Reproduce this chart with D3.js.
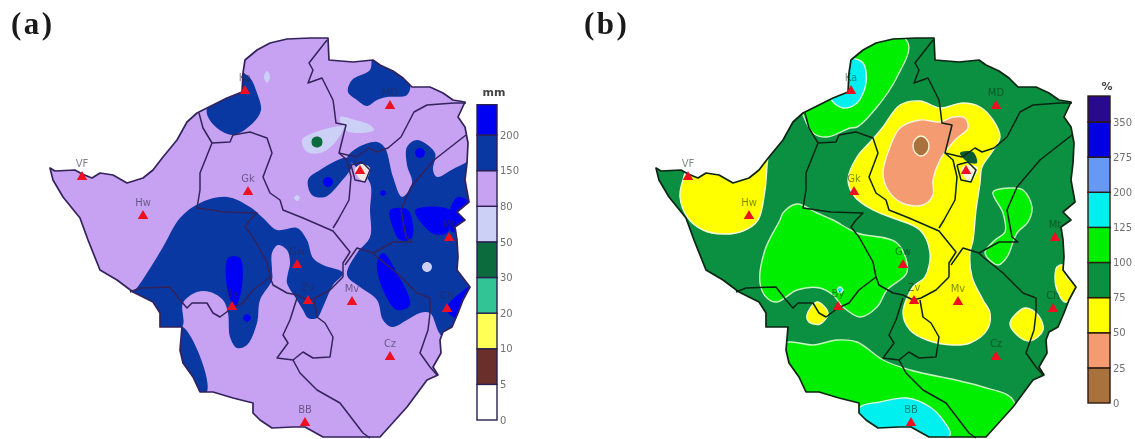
<!DOCTYPE html>
<html>
<head>
<meta charset="utf-8">
<script src="https://cdn.jsdelivr.net/npm/d3@7"></script>
<style>
html, body { margin: 0; background: #fff; }
svg { display: block; filter: blur(0.6px); }
</style>
</head>
<body>
<svg id="canvas" width="1135" height="439"></svg>
<script>
// all shapes are [east km, north km] on a rough grid over the country
const outline = [[0,544],[10,538],[50,540],[64,532],[84,524],[100,534],[126,530],[154,514],[186,524],[206,540],[226,566],[254,600],[274,636],[294,654],[314,664],[354,684],[384,696],[386,734],[390,760],[414,780],[440,794],[474,802],[520,804],[556,804],[558,760],[606,756],[646,760],[660,750],[686,738],[706,724],[724,706],[760,706],[786,694],[806,680],[830,676],[816,646],[830,626],[836,594],[834,554],[830,520],[838,476],[814,456],[830,440],[810,426],[814,400],[816,366],[814,340],[840,306],[826,280],[816,254],[804,226],[786,216],[780,200],[782,174],[766,146],[776,130],[754,120],[714,66],[660,6],[626,6],[546,6],[510,26],[486,26],[444,24],[420,40],[406,54],[406,74],[366,84],[326,96],[300,96],[286,126],[266,154],[260,180],[264,226],[220,226],[220,254],[206,276],[166,296],[134,320],[100,340],[76,400],[60,444],[26,486],[6,520]];

const boundaries = [
    [[298,654],[306,624],[324,594],[360,596],[366,610],[400,616],[434,604],[444,574],[426,526],[440,494],[460,480],[466,460],[506,444],[566,418],[600,376],[586,354],[586,326]],
    [[324,594],[300,534],[300,500],[294,464],[350,456],[414,454],[400,440],[390,426],[406,406],[434,356],[440,326],[406,300],[386,274],[364,264],[340,246],[326,254],[314,274],[284,274],[274,264],[260,280],[240,306],[180,304],[160,296]],
    [[440,326],[446,310],[474,294],[494,290],[514,280],[530,284],[560,300],[586,326]],
    [[494,284],[480,240],[466,210],[476,194],[454,164],[486,160],[506,176],[526,164],[560,166],[566,206],[550,234],[534,246],[528,280]],
    [[486,160],[500,134],[534,100],[580,74],[626,14],[640,4]],
    [[554,800],[518,754],[526,740],[516,714],[544,724],[566,680],[568,666],[572,634],[592,630],[578,574],[612,566],[638,584],[652,576],[676,584],[702,606],[728,656],[754,670],[808,674],[832,674]],
    [[578,574],[594,560],[602,526],[598,480],[576,440],[566,424]],
    [[832,610],[768,560],[722,506],[702,460],[712,406],[724,396],[686,396],[646,374],[614,384],[590,350]],
    [[646,374],[654,366],[694,334],[734,294],[760,284],[760,254],[756,220],[740,174],[760,146],[774,130]],
    [[602,550],[624,556],[640,540],[630,516],[610,520],[602,550]]
];

const stationNames = ["VF","Hw","Gk","Ka","MD","","Gw","Zv","Mv","By","Mt","Ch","Cz","BB"];
const stationEast = [64,186,396,390,680,620,494,516,604,364,798,794,680,510];
const stationNorth = [524,446,494,696,666,536,348,276,274,264,402,260,164,32];

// panel a: rainfall classes
const aLabels = ["0","5","10","20","30","50","80","150","200"];
const aColors = ["#ffffff","#6b2f2b","#ffff55","#33c495","#0b6b3c","#ccd0f6","#c8a2f2","#0a38a2","#0000f2"];
const aEdges = [0,1,2,3,4,5,6,7,8,8.85];

const aPale = [
    [[580,646],[610,640],[640,630],[648,620],[620,614],[590,620]],
    [[504,600],[526,614],[586,626],[574,600],[546,576],[514,576]],
    [[644,720],[652,734],[660,720],[652,706]],
    [[428,726],[434,738],[440,726],[434,714]],
    [[488,484],[494,490],[500,484],[494,478]]
];
const aPaleSpot = [[[744,346],[747,353],[754,356],[761,353],[764,346],[761,339],[754,336],[747,339]]];
const aGreen = [[[523,596],[526,604],[534,607],[542,604],[545,596],[542,588],[534,585],[526,588]]];
const aDark = [
    [[314,664],[340,700],[380,735],[400,724],[414,694],[422,660],[406,634],[366,610],[334,624],[316,646]],
    [[646,765],[686,745],[720,712],[714,690],[674,686],[654,680],[634,668],[614,680],[596,696],[604,720],[640,740]],
    [[594,564],[614,584],[654,596],[670,584],[686,526],[704,486],[724,514],[714,550],[714,586],[734,600],[770,574],[766,540],[774,526],[814,546],[860,560],[870,200],[786,206],[760,254],[740,254],[714,240],[684,226],[666,240],[654,280],[620,306],[594,330],[614,374],[640,406],[640,460],[640,514],[604,554]],
    [[516,520],[540,540],[594,564],[604,550],[580,514],[550,486],[524,490]],
    [[150,290],[166,296],[194,334],[226,386],[260,444],[300,474],[354,486],[400,466],[426,444],[454,420],[494,424],[514,400],[526,364],[546,350],[586,334],[566,310],[546,266],[534,244],[516,244],[506,260],[494,280],[474,314],[476,334],[480,354],[474,380],[456,390],[444,374],[444,340],[444,320],[420,280],[414,234],[394,190],[374,184],[360,206],[356,254],[346,280],[320,296],[294,296],[266,274],[264,226],[200,210]],
    [[266,226],[314,96],[270,80],[240,220]]
];
const aBright = [
    [[356,364],[380,364],[384,306],[370,266],[356,296]],
    [[386,244],[394,252],[402,244],[394,236]],
    [[546,516],[549,523],[556,526],[563,523],[566,516],[563,509],[556,506],[549,509]],
    [[730,574],[733,581],[740,584],[747,581],[750,574],[747,567],[740,564],[733,567]],
    [[660,494],[666,500],[672,494],[666,488]],
    [[680,460],[716,460],[724,404],[700,400],[684,430]],
    [[730,460],[800,460],[794,414],[764,414]],
    [[800,460],[816,486],[840,474],[840,430],[804,416]],
    [[654,354],[666,374],[694,334],[720,270],[694,260],[666,300]],
    [[794,266],[820,294],[850,310],[840,240],[800,250]]
];
const aPocket = [[610,540],[622,552],[640,544],[628,516]];

// panel b: percent of normal classes
const bLabels = ["0","25","50","75","100","125","200","275","350"];
const bColors = ["#a9713c","#f59b72","#ffff00","#0a9040","#00ee00","#00f0f0","#6699f2","#0000e2","#2a0a8c"];
const bEdges = [0,1,2,3,4,5,6,7,8,8.74];

const bYellow = [
    [[228,580],[218,500],[204,440],[174,418],[134,412],[94,420],[64,444],[48,486],[54,520],[68,550],[248,600]],
    [[528,678],[488,670],[454,626],[432,600],[402,566],[384,520],[398,486],[434,460],[474,444],[528,420],[548,374],[538,326],[514,306],[494,254],[508,220],[542,200],[594,190],[628,194],[662,220],[668,254],[654,280],[632,326],[628,374],[634,400],[640,460],[648,514],[652,546],[672,576],[688,606],[674,640],[648,666],[614,674],[568,664]],
    [[302,250],[322,276],[344,254],[328,232],[306,236]],
    [[802,346],[814,350],[822,324],[842,310],[834,286],[818,276],[802,300],[798,326]],
    [[708,234],[738,264],[764,250],[774,220],[748,198],[722,210]]
];
const bSalmon = [[[528,640],[488,624],[468,586],[454,534],[464,500],[492,474],[534,470],[554,490],[554,520],[568,560],[598,600],[624,624],[618,644],[594,646],[568,636]]];
const bBrown = [[[514,588],[519,602],[530,608],[541,602],[546,588],[541,574],[530,568],[519,574]]];
const bGreen = [
    [[288,670],[294,650],[314,614],[342,606],[388,624],[402,626],[442,666],[482,726],[504,794],[408,840],[250,720]],
    [[248,440],[218,380],[208,314],[222,284],[242,276],[282,300],[328,304],[354,290],[374,266],[408,246],[442,266],[462,300],[502,336],[482,394],[402,414],[354,440],[322,454],[282,472],[254,454]],
    [[268,196],[314,190],[362,200],[402,196],[454,160],[508,140],[608,118],[654,106],[714,80],[708,-20],[228,-20],[208,180]],
    [[674,496],[708,504],[734,500],[752,466],[744,436],[722,414],[702,366],[684,350],[658,374],[678,400],[698,416],[694,454]]
];
const bCyan = [
    [[348,686],[374,664],[402,674],[420,714],[414,754],[388,764],[368,760]],
    [[408,66],[448,76],[502,84],[548,66],[574,40],[588,10],[488,-10],[388,20]],
    [[362,300],[368,306],[374,300],[368,294]]
];
const bDarkSpot = [[608,574],[634,576],[642,554],[624,556]];
const bWhiteSpot = [[610,540],[622,550],[644,544],[628,516]];

const canvas = d3.select("#canvas");
const yMap = d3.scaleLinear().domain([0, 800]).range([440, 40]);
const xA = d3.scaleLinear().domain([0, 840]).range([50, 470]);
const xB = d3.scaleLinear().domain([0, 840]).range([656, 1076]);

const makePanel = (id, xMap, baseColor, lineColor) => {
    const blob = d3.line().x(d => xMap(d[0])).y(d => yMap(d[1])).curve(d3.curveCatmullRomClosed.alpha(0.5));
    const straight = d3.line().x(d => xMap(d[0])).y(d => yMap(d[1]));

    canvas.append("clipPath").attr("id", "clip-" + id)
        .append("path").attr("d", straight(outline) + "Z");

    const panel = canvas.append("g");
    const inside = panel.append("g").attr("clip-path", `url(#clip-${id})`);
    inside.append("path").attr("d", straight(outline) + "Z").attr("fill", baseColor);

    const addBlobs = (polys, color, edge) => {
        inside.selectAll(null)
            .data(polys)
            .enter()
            .append("path")
            .attr("d", blob)
            .attr("fill", color)
            .attr("stroke", edge || "none")
            .attr("stroke-width", edge ? 1.4 : 0);
    };

    const drawLines = () => {
        panel.selectAll(null)
            .data(boundaries)
            .enter()
            .append("path")
            .attr("d", straight)
            .attr("fill", "none")
            .attr("stroke", lineColor)
            .attr("stroke-width", 1.5)
            .attr("stroke-linejoin", "round");
        panel.append("path")
            .attr("d", straight(outline) + "Z")
            .attr("fill", "none")
            .attr("stroke", lineColor)
            .attr("stroke-width", 1.7)
            .attr("stroke-linejoin", "round");
    };

    const drawStations = (labelColor, labelOpacity) => {
        const tri = d3.symbol().type(d3.symbolTriangle).size(48);
        stationNames.forEach((name, i) => {
            panel.append("path")
                .attr("d", tri())
                .attr("transform", `translate(${xMap(stationEast[i])},${yMap(stationNorth[i]) - 1})`)
                .attr("fill", "#ee1020");
            panel.append("text")
                .attr("x", xMap(stationEast[i]))
                .attr("y", yMap(stationNorth[i]) - 11)
                .attr("text-anchor", "middle")
                .attr("font-family", "DejaVu Sans")
                .attr("font-size", 10)
                .attr("fill", labelColor)
                .attr("opacity", labelOpacity)
                .text(name);
        });
    };

    return { addBlobs, drawLines, drawStations };
};

const drawLegend = (x0, x1, bottom, top8, edges, colors, labels, unit, unitX, unitY, lineColor) => {
    const yLeg = d3.scaleLinear().domain([0, 8]).range([bottom, top8]);
    const g = canvas.append("g");
    g.selectAll("rect")
        .data(colors)
        .enter()
        .append("rect")
        .attr("x", x0)
        .attr("width", x1 - x0)
        .attr("y", (d, i) => yLeg(edges[i + 1]))
        .attr("height", (d, i) => yLeg(edges[i]) - yLeg(edges[i + 1]))
        .attr("fill", d => d)
        .attr("stroke", lineColor)
        .attr("stroke-width", 1.4);

    const axis = d3.axisRight(yLeg)
        .tickValues(d3.range(labels.length))
        .tickFormat(i => labels[i])
        .tickSize(0)
        .tickPadding(3);
    const axisG = g.append("g").attr("transform", `translate(${x1},0)`).call(axis);
    axisG.select(".domain").remove();
    axisG.selectAll("text")
        .attr("font-family", "DejaVu Sans")
        .attr("font-size", 10)
        .attr("fill", "#707070");

    g.append("text")
        .attr("x", unitX).attr("y", unitY)
        .attr("text-anchor", "middle")
        .attr("font-family", "DejaVu Sans")
        .attr("font-weight", "bold")
        .attr("font-size", 11)
        .attr("fill", "#444")
        .text(unit);
};

// panel a
const pa = makePanel("a", xA, aColors[6], "#33235c");
pa.addBlobs(aPale, aColors[5]);
pa.addBlobs(aDark, aColors[7]);
pa.addBlobs(aBright, aColors[8]);
pa.addBlobs(aGreen, aColors[4]);
pa.addBlobs(aPaleSpot, aColors[5]);
pa.addBlobs([aPocket], "#f4e6e0");
pa.drawLines();
pa.drawStations("#2c2848", 0.6);
drawLegend(477, 497, 420, 135, aEdges, aColors, aLabels, "mm", 494, 96, "#2b2050");

// panel b
const pb = makePanel("b", xB, bColors[3], "#0c2413");
pb.addBlobs(bGreen, bColors[4], "#c8f5c0");
pb.addBlobs(bCyan, bColors[5], "#d8fbe0");
pb.addBlobs(bYellow, bColors[2], "#f4fbd0");
pb.addBlobs(bSalmon, bColors[1], "#fbf3d8");
pb.addBlobs(bBrown, bColors[0], "#fbf3d8");
pb.addBlobs([bWhiteSpot], "#f7f4dc");
pb.addBlobs([bDarkSpot], "#0a5a34");
pb.drawLines();
pb.drawStations("#0a2a14", 0.55);
drawLegend(1088, 1110, 403, 122, bEdges, bColors, bLabels, "%", 1107, 90, "#2b1a10");

// panel letters
canvas.selectAll(".letter")
    .data([["(a)", 11], ["(b)", 584]])
    .enter()
    .append("text")
    .attr("class", "letter")
    .attr("x", d => d[1])
    .attr("y", 34)
    .attr("font-family", "Liberation Serif")
    .attr("font-weight", "bold")
    .attr("font-size", 31)
    .attr("letter-spacing", 2.5)
    .attr("fill", "#1a1a1a")
    .text(d => d[0]);
</script>
</body>
</html>
